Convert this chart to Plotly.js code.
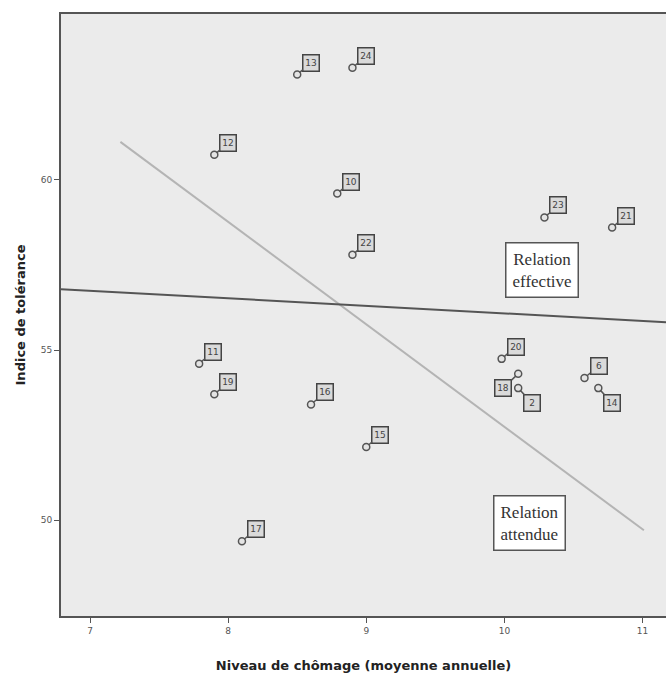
<!DOCTYPE html>
<html>
<head>
<meta charset="utf-8">
<script src="https://cdn.plot.ly/plotly-3.0.1.min.js"></script>
<style>html,body{margin:0;padding:0;background:#fff;}#chart{width:666px;height:680px;}</style>
</head>
<body>
<div id="chart"></div>
<script>
// Data
var chomage   = [8.50, 8.90, 7.90, 8.79, 8.90, 10.29, 10.78, 7.79, 7.90, 8.60, 9.00, 8.10, 9.98, 10.10, 10.10, 10.58, 10.68];
var tolerance = [63.1, 63.3, 60.74, 59.6, 57.8, 58.9, 58.6, 54.6, 53.7, 53.4, 52.15, 49.38, 54.74, 54.3, 53.88, 54.18, 53.88];
var pointLabels = ["13","24","12","10","22","23","21","11","19","16","15","17","20","18","2","6","14"];
var labelSide = ["ur","ur","ur","ur","ur","ur","ur","ur","ur","ur","ur","ur","ur","dl","dr","ur","dr"];

var effectiveX = [6.79, 11.17];
var effectiveY = [56.79, 55.82];
var attendueX = [7.22, 11.01];
var attendueY = [61.12, 49.7];

var xTicks = [7, 8, 9, 10, 11];
var yTicks = [50, 55, 60];

var offsets = {ur:[14,-12], dr:[14,15], dl:[-15,14]};

var traces = [
  {x: attendueX, y: attendueY, mode:'lines', line:{color:'#b4b4b4', width:2}, hoverinfo:'skip'},
  {x: effectiveX, y: effectiveY, mode:'lines', line:{color:'#555555', width:2}, hoverinfo:'skip'},
  {x: chomage, y: tolerance, mode:'markers',
   marker:{symbol:'circle', size:7, color:'#e4e4e4', line:{color:'#555555', width:1.5}}}
];

var annotations = pointLabels.map(function(t, i){
  var o = offsets[labelSide[i]];
  return {x: chomage[i], y: tolerance[i], xref:'x', yref:'y', text: t,
    showarrow:true, arrowhead:0, arrowwidth:1.5, arrowcolor:'#555', ax:o[0], ay:o[1],
    standoff:3, startstandoff:0, width:13, height:13, align:'center', valign:'middle',
    font:{family:'DejaVu Sans', size:9, color:'#444'},
    bordercolor:'#444', borderwidth:1.5, borderpad:1, bgcolor:'#dadada'};
});

annotations.push({x:542, y:270, xref:'paper', yref:'paper', text:'Relation<br>effective', showarrow:false});
annotations.push({x:529, y:523, xref:'paper', yref:'paper', text:'Relation<br>attendue', showarrow:false});

// convert the two text boxes from pixel centres to paper coords
var L=61, T=14, W=666-61, H=616-14;
[annotations.length-2, annotations.length-1].forEach(function(k){
  var a = annotations[k];
  a.x = (a.x - L)/W; a.y = 1 - (a.y - T)/H;
  a.xanchor='center'; a.yanchor='middle';
  a.font = {family:'Liberation Serif', size:17, color:'#333'};
  a.bgcolor='#ffffff'; a.bordercolor='#555'; a.borderwidth=1.5; a.borderpad=6;
});

var layout = {
  width:666, height:680,
  margin:{l:61, r:0, t:14, b:64},
  paper_bgcolor:'#ffffff', plot_bgcolor:'#ebebeb',
  showlegend:false,
  xaxis:{range:[6.79, 11.17], tickvals:xTicks, ticktext:xTicks.map(String),
    ticks:'outside', ticklen:5, tickcolor:'#555', showgrid:false, zeroline:false,
    showline:true, linecolor:'#555', linewidth:2, mirror:true,
    tickfont:{family:'DejaVu Sans', size:9, color:'#555'},
    title:{text:'Niveau de chômage (moyenne annuelle)', standoff:26,
      font:{family:'DejaVu Sans', size:13, color:'#222', weight:'bold'}}},
  yaxis:{range:[47.18, 64.88], tickvals:yTicks, ticktext:yTicks.map(String),
    ticks:'outside', ticklen:5, tickcolor:'#555', showgrid:false, zeroline:false,
    showline:true, linecolor:'#555', linewidth:2, mirror:false,
    tickfont:{family:'DejaVu Sans', size:9, color:'#555'},
    title:{text:'Indice de tolérance', standoff:12,
      font:{family:'DejaVu Sans', size:13, color:'#222', weight:'bold'}}},
  annotations: annotations
};

Plotly.newPlot('chart', traces, layout, {displayModeBar:false, staticPlot:true});
</script>
</body>
</html>
